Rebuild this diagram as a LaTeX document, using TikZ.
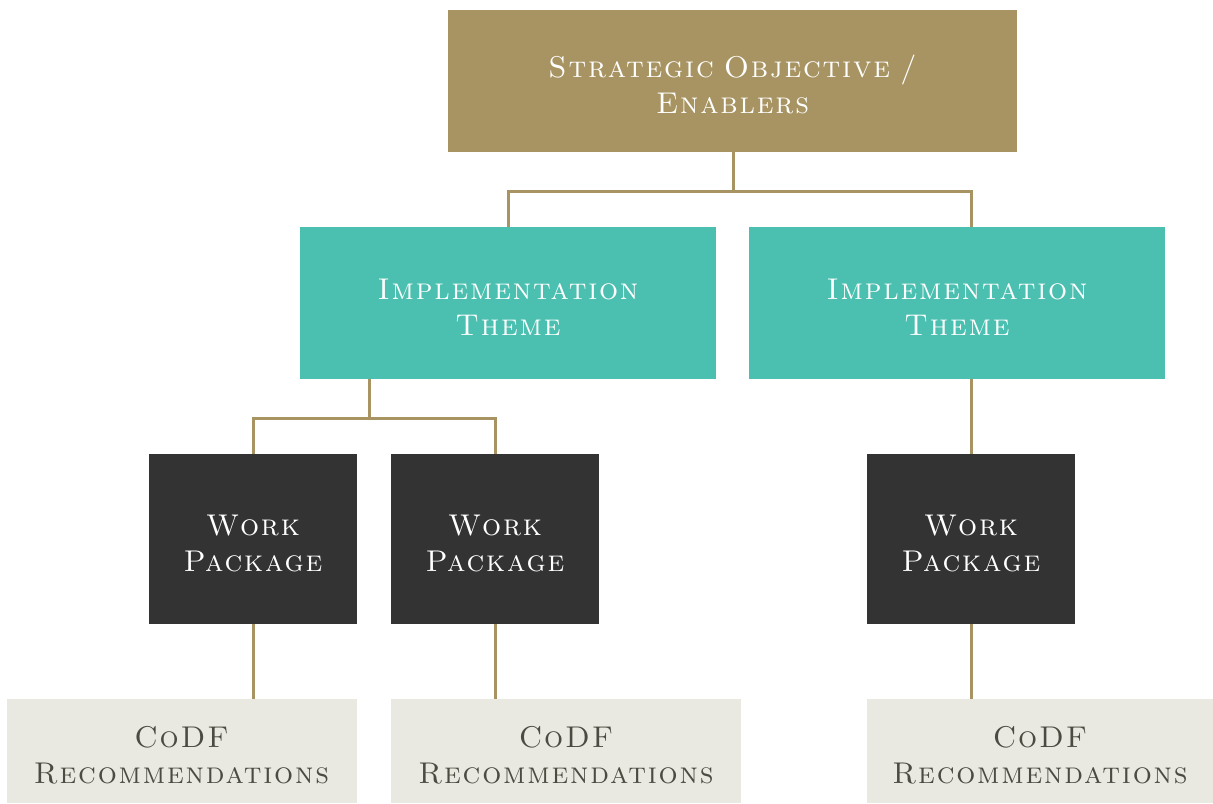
\documentclass[tikz,border=0pt]{standalone}
\usepackage{fontspec}
\newfontfamily\capsfont{lmromancaps10-regular.otf}[LetterSpace=6]
\definecolor{gold}{RGB}{168,148,98}
\definecolor{teal}{RGB}{75,192,176}
\definecolor{charcoal}{RGB}{51,51,51}
\definecolor{stone}{RGB}{234,233,225}
\definecolor{slate}{RGB}{75,75,66}
\usetikzlibrary{positioning,calc}
\newcommand{\lift}{\rule{0pt}{14.5pt}}
\tikzset{
  objbox/.style={fill=gold,minimum width=284.5pt,minimum height=71pt,
               text width=270pt,align=center,text=white,
               font=\capsfont\fontsize{15}{18}\selectfont},
  themebox/.style={fill=teal,minimum width=208pt,minimum height=76pt,
               text width=200pt,align=center,text=white,
               font=\capsfont\fontsize{15}{18}\selectfont},
  wpbox/.style={fill=charcoal,minimum width=104pt,minimum height=85pt,
               text width=96pt,align=center,text=white,
               font=\capsfont\fontsize{15}{18}\selectfont},
  recbox/.style={fill=stone,minimum width=175pt,minimum height=52pt,
               text width=166pt,align=center,text=slate,
               font=\capsfont\fontsize{15}{18}\selectfont},
  conn/.style={draw=gold,line width=1.5pt},
}

\begin{document}
\begin{tikzpicture}[x=0.5pt,y=-0.5pt]
    \useasboundingbox (0,0) rectangle (1213,803);
    \node[objbox] (obj) at (732.5,81) {\lift Strategic Objective /\\Enablers};
    \node[themebox] (it1) at (508,303) {\lift Implementation\\Theme};
    \node[themebox] (it2) at (957,303) {\lift Implementation\\Theme};
    \node[wpbox] (wp1) at (253,539) {\lift Work\\Package};
    \node[wpbox] (wp2) at (495,539) {\lift Work\\Package};
    \node[wpbox] (wp3) at (971,539) {\lift Work\\Package};
    \node[recbox] (cr1) at (181.5,751) {\lift CoDF\\Recommendations};
    \node[recbox] (cr2) at (566,751) {\lift CoDF\\Recommendations};
    \node[recbox,minimum width=173pt] (cr3) at (1040,751) {\lift CoDF\\Recommendations};
    \coordinate (j1) at (733,191);
    \coordinate (j2) at (369,418);
    \draw[conn] (obj.south -| j1) -- (j1);
    \draw[conn] (it1.north) |- (j1) -| (it2.north -| wp3);
    \draw[conn] (it1.south -| j2) -- (j2);
    \draw[conn] (wp1.north) |- (j2) -| (wp2.north);
    \draw[conn] (it2.south -| wp3) -- (wp3.north);
    \draw[conn] (wp1.south) -- (wp1.south |- cr1.north);
    \draw[conn] (wp2.south) -- (wp2.south |- cr2.north);
    \draw[conn] (wp3.south) -- (wp3.south |- cr3.north);
  \end{tikzpicture}
\end{document}
